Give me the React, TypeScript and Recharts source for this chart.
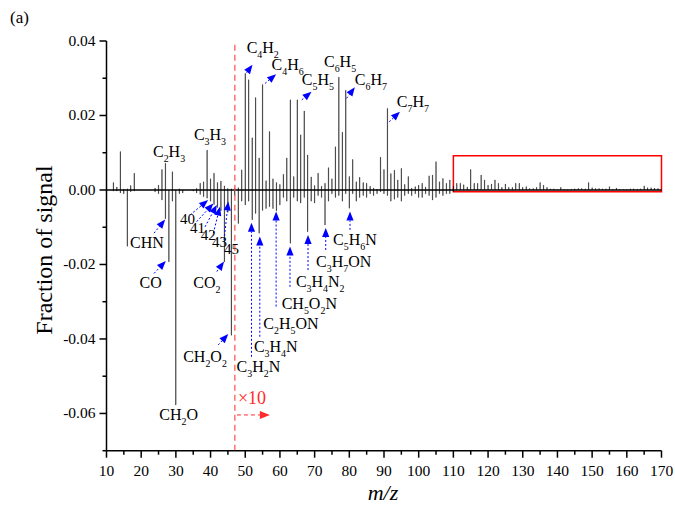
import { ComposedChart, Bar, XAxis, YAxis, ReferenceLine, ReferenceArea, Scatter } from 'recharts'

const SERIF = '"Liberation Serif", "Times New Roman", serif'

// fraction of signal per m/z (positive = upper trace, negative = lower trace)
const lowStart = 12 // m/z 12..47
const posLow = [
  0.002, 0.0008, 0.0103, 0.0002, 0.0003, 0.0012, 0.0045, 0, 0, 0, 0, 0,
  0.0005, 0.0013, 0.0055, 0.0072, 0, 0.0049, 0, 0.0003, 0, 0, 0, 0,
  0.0004, 0.0018, 0.0022, 0.0107, 0.003, 0.0045, 0.002, 0.0024, 0.0011, 0.0004, 0.0003, 0.0006,
]
const negLow = [
  -0.0003, -0.0003, -0.0008, -0.001, -0.0151, -0.0005, -0.0003, 0, 0, 0, 0, 0,
  -0.0005, -0.001, -0.0027, -0.0077, -0.0193, -0.003, -0.0577, -0.001, -0.0008, 0, 0, -0.0003,
  -0.0008, -0.0012, -0.0018, -0.0022, -0.003, -0.0039, -0.0047, -0.0056, -0.0193, -0.006, -0.039, -0.0015,
]

const midStart = 48 // m/z 48..110
const posMid = [
  0.0006, 0.0054, 0.0313, 0.0296, 0.014, 0.0248, 0.0086, 0.0283, 0.0025, 0.0157,
  0.003, 0.002, 0.0015, 0.0042, 0.0086, 0.0242, 0.0036, 0.0242, 0.0148, 0.0212,
  0.0094, 0.0035, 0.0012, 0.0045, 0.001, 0.0018, 0.006, 0.003, 0.0116, 0.0303,
  0.0155, 0.0268, 0.0036, 0.0082, 0.0022, 0.0034, 0.002, 0.0018, 0.001, 0.0005,
  0.0002, 0.0088, 0.0055, 0.0219, 0.0044, 0.0053, 0.0027, 0.0058, 0.0015, 0.0036,
  0.0005, 0.0009, 0.0013, 0.0018, 0.0008, 0.0038, 0.004, 0.0076, 0.0022, 0.0031,
  0.0018, 0.0027, 0.001,
]
const negMid = [
  -0.009, -0.003, -0.004, -0.003, -0.008, -0.0063, -0.0116, -0.0055, -0.005, -0.0045,
  -0.005, -0.0056, -0.004, -0.002, -0.003, -0.0143, -0.002, -0.003, -0.0035, -0.002,
  -0.0112, -0.003, -0.0035, -0.0015, -0.002, -0.0094, -0.003, -0.001, -0.002, -0.0015,
  -0.003, -0.001, -0.0049, -0.001, -0.003, -0.002, -0.0015, -0.002, -0.001, -0.0015,
  -0.001, -0.0005, -0.001, -0.0015, -0.003, -0.0025, -0.002, -0.003, -0.0015, -0.001,
  -0.0015, -0.001, -0.002, -0.002, -0.001, -0.0015, -0.0027, -0.002, -0.001, -0.0015,
  -0.001, -0.001, -0.0005,
]

const highStart = 111 // m/z 111..170 (red box)
const posHigh = [
  0.0018, 0.0018, 0.0014, 0.0008, 0.0055, 0.0018, 0.0018, 0.004, 0.0027, 0.0013,
  0.0016, 0.0027, 0.0018, 0.0007, 0.0016, 0.0007, 0.0007, 0.0018, 0.0018, 0.0007,
  0.0009, 0.0004, 0.0004, 0.0007, 0.002, 0.0013, 0.0007, 0.0003, 0.0003, 0.0001,
  0.0007, 0.0001, 0.0001, 0.0002, 0.0003, 0.0004, 0.0004, 0.0003, 0.002, 0.0006,
  0.0004, 0.0004, 0.0003, 0.0003, 0.0009, 0.0002, 0.0005, 0.0001, 0.0001, 0.0001,
  0.0003, 0.0003, 0.0002, 0.0003, 0.0011, 0.0006, 0.0006, 0.0005, 0.0004, 0.0001,
]

const xTicks = [10, 15, 20, 25, 30, 35, 40, 45, 50, 55, 60, 65, 70, 75, 80, 85, 90, 95, 100,
  105, 110, 115, 120, 125, 130, 135, 140, 145, 150, 155, 160, 165, 170]
const yTicks = [-0.07, -0.06, -0.05, -0.04, -0.03, -0.02, -0.01, 0, 0.01, 0.02, 0.03, 0.04]

// ion labels: "_n" marks a subscript
const ionLabels = [
  { mz: 23.4, v: 0.0102, text: 'C_2H_3' },
  { mz: 35.2, v: 0.0148, text: 'C_3H_3' },
  { mz: 50.4, v: 0.0381, text: 'C_4H_2' },
  { mz: 57.6, v: 0.0336, text: 'C_4H_6' },
  { mz: 66.3, v: 0.0295, text: 'C_5H_5' },
  { mz: 72.7, v: 0.0344, text: 'C_6H_5' },
  { mz: 81.6, v: 0.0295, text: 'C_6H_7' },
  { mz: 93.7, v: 0.0236, text: 'C_7H_7' },
  { mz: 16.8, v: -0.0142, text: 'CHN' },
  { mz: 19.5, v: -0.0249, text: 'CO' },
  { mz: 25.2, v: -0.0604, text: 'CH_2O' },
  { mz: 35.0, v: -0.025, text: 'CO_2' },
  { mz: 32.1, v: -0.0448, text: 'CH_2O_2' },
  { mz: 47.5, v: -0.0474, text: 'C_3H_2N' },
  { mz: 52.5, v: -0.0421, text: 'C_3H_4N' },
  { mz: 55.2, v: -0.036, text: 'C_2H_5ON' },
  { mz: 60.5, v: -0.0306, text: 'CH_5O_2N' },
  { mz: 64.6, v: -0.0247, text: 'C_3H_4N_2' },
  { mz: 70.4, v: -0.0193, text: 'C_3H_7ON' },
  { mz: 75.3, v: -0.0134, text: 'C_5H_6N' },
]
const massLabels = [
  { mz: 31.2, v: -0.0077, text: '40' },
  { mz: 34.1, v: -0.0101, text: '41' },
  { mz: 37.2, v: -0.012, text: '42' },
  { mz: 40.4, v: -0.0139, text: '43' },
  { mz: 43.9, v: -0.0158, text: '45' },
]

// blue arrows: [tail m/z, tail value, head m/z, head value]
const arrows = [
  [50.4, 0.0315, 52.1, 0.0336],
  [55.7, 0.0286, 58.9, 0.0311],
  [66.3, 0.0242, 69.1, 0.0264],
  [79.2, 0.0246, 81.6, 0.0276],
  [91.5, 0.0183, 94.6, 0.021],
  [23.7, -0.0116, 26.9, -0.0079],
  [23.7, -0.0224, 27.1, -0.0191],
  [34.1, -0.0067, 39.3, -0.0027],
  [36.0, -0.0085, 40.8, -0.0036],
  [38.4, -0.0099, 41.8, -0.004],
  [40.8, -0.0116, 42.7, -0.0045],
  [43.9, -0.0134, 45.1, -0.0031],
  [41.8, -0.0219, 43.9, -0.0192],
  [42.2, -0.0416, 45.1, -0.0387],
  [51.8, -0.0448, 51.8, -0.0088],
  [54.2, -0.0394, 54.2, -0.0125],
  [58.9, -0.0313, 58.9, -0.0058],
  [62.9, -0.026, 62.9, -0.0152],
  [68.1, -0.0215, 68.1, -0.0121],
  [73.2, -0.0161, 73.2, -0.0102],
  [80.2, -0.0107, 80.2, -0.0058],
]

const spectrum: any[] = []
posLow.forEach((p, i) => spectrum.push({ mz: lowStart + i, pos: p, neg: negLow[i] }))
posMid.forEach((p, i) => spectrum.push({ mz: midStart + i, pos: p, neg: negMid[i] }))
posHigh.forEach((p, i) => spectrum.push({ mz: highStart + i, pos: p, neg: 0 }))

const Formula = ({ x, y, text, size }: any) => {
  const parts = text.split(/(_\d+)/).filter(Boolean)
  let inSub = false
  return (
    <text x={x} y={y + size * 0.33} fontFamily={SERIF} fontSize={size} fill="#000">
      {parts.map((p: string, i: number) => {
        if (p.startsWith('_')) {
          inSub = true
          return <tspan key={i} dy={size * 0.3} fontSize={size * 0.62}>{p.slice(1)}</tspan>
        }
        const dy = inSub ? -size * 0.3 : 0
        inSub = false
        return <tspan key={i} dy={dy}>{p}</tspan>
      })}
    </text>
  )
}

const arrowShape = (color: string, dash: string, head: number) => (props: any) => {
  const { x1, y1, x2, y2 } = props
  const a = Math.atan2(y2 - y1, x2 - x1)
  const bx = x2 - Math.cos(a) * head
  const by = y2 - Math.sin(a) * head
  const w = head * 0.4
  const pts = `${x2},${y2} ${bx - Math.sin(a) * w},${by + Math.cos(a) * w} ${bx + Math.sin(a) * w},${by - Math.cos(a) * w}`
  return (
    <g>
      <line x1={x1} y1={y1} x2={bx} y2={by} stroke={color} strokeWidth={1} strokeDasharray={dash} />
      <polygon points={pts} fill={color} />
    </g>
  )
}

const XTick = ({ x, y, payload }: any) => {
  const major = payload.value % 10 === 0
  return (
    <g>
      <line x1={x} y1={y} x2={x} y2={y + (major ? 7 : 4)} stroke="#000" strokeWidth={1.5} />
      {major && (
        <text x={x} y={y + 25} textAnchor="middle" fontFamily={SERIF} fontSize={15.5} fill="#000">
          {payload.value}
        </text>
      )}
    </g>
  )
}

const YTick = ({ x, y, payload }: any) => {
  const major = Math.round(payload.value * 100) % 2 === 0
  return (
    <g>
      <line x1={x} y1={y} x2={x - (major ? 7 : 4)} y2={y} stroke="#000" strokeWidth={1.5} />
      {major && (
        <text x={x - 11} y={y + 5} textAnchor="end" fontFamily={SERIF} fontSize={15.5} fill="#000">
          {payload.value.toFixed(2)}
        </text>
      )}
    </g>
  )
}

const App = () => {
  return (
    <div style={{ position: 'absolute', left: 0, top: 0, width: 675, height: 515, background: '#fff' }}>
      <ComposedChart
        width={675}
        height={515}
        data={spectrum}
        stackOffset="sign"
        margin={{ top: 41, right: 13.5, bottom: 24.3, left: 56.5 }}
      >
        <XAxis
          dataKey="mz"
          type="number"
          domain={[10, 170]}
          ticks={xTicks}
          interval={0}
          tickSize={0}
          tickMargin={0}
          tick={<XTick />}
          height={40}
          stroke="#000"
          strokeWidth={1.5}
          allowDataOverflow
        />
        <YAxis
          type="number"
          domain={[-0.07, 0.04]}
          ticks={yTicks}
          interval={0}
          tickSize={0}
          tickMargin={0}
          tick={<YTick />}
          width={50}
          stroke="#000"
          strokeWidth={1.5}
          allowDataOverflow
        />
        <Bar dataKey="pos" stackId="s" fill="#000" stroke="#000" strokeWidth={0.4} barSize={2} isAnimationActive={false} />
        <Bar dataKey="neg" stackId="s" fill="#000" stroke="#000" strokeWidth={0.4} barSize={2} isAnimationActive={false} />
        <ReferenceLine y={0} stroke="#000" strokeWidth={1.4} />
        <ReferenceLine x={47} stroke="#ff5a5a" strokeWidth={1.3} strokeDasharray="6 4" />
        <ReferenceArea x1={110} x2={170} y1={-0.0005} y2={0.0092} stroke="#ff0000" strokeWidth={1.5} fill="none" fillOpacity={0} ifOverflow="visible" />
        {arrows.map((a, i) => (
          <ReferenceLine
            key={i}
            segment={[{ x: a[0], y: a[1] }, { x: a[2], y: a[3] }]}
            ifOverflow="visible"
            shape={arrowShape('#0000ff', '2 2', 9)}
          />
        ))}
        <ReferenceLine
          segment={[{ x: 47.6, y: -0.0604 }, { x: 57.1, y: -0.0604 }]}
          ifOverflow="visible"
          shape={arrowShape('#ff2a2a', '4 3', 10)}
        />
        <Scatter
          data={ionLabels}
          dataKey="v"
          isAnimationActive={false}
          shape={(p: any) => <Formula x={p.cx} y={p.cy} text={p.payload.text} size={16} />}
        />
        <Scatter
          data={massLabels}
          dataKey="v"
          isAnimationActive={false}
          shape={(p: any) => <Formula x={p.cx} y={p.cy} text={p.payload.text} size={15} />}
        />
        <Scatter
          data={[{ mz: 47.9, v: -0.0558, text: '×10' }]}
          dataKey="v"
          isAnimationActive={false}
          shape={(p: any) => (
            <text x={p.cx} y={p.cy + 6} fontFamily={SERIF} fontSize={18} fill="#ff2a2a">{p.payload.text}</text>
          )}
        />
      </ComposedChart>
      <div style={{ position: 'absolute', left: 10, top: 8, fontFamily: SERIF, fontSize: 17 }}>(a)</div>
      <div
        style={{
          position: 'absolute', left: 44, top: 250, fontFamily: SERIF, fontSize: 24,
          transform: 'translate(-50%, -50%) rotate(-90deg)', whiteSpace: 'nowrap',
        }}
      >
        Fraction of signal
      </div>
      <div
        style={{
          position: 'absolute', left: 383, top: 493, fontFamily: SERIF, fontSize: 22, fontStyle: 'italic',
          transform: 'translate(-50%, -50%)', whiteSpace: 'nowrap',
        }}
      >
        m/z
      </div>
    </div>
  )
}

export default App
